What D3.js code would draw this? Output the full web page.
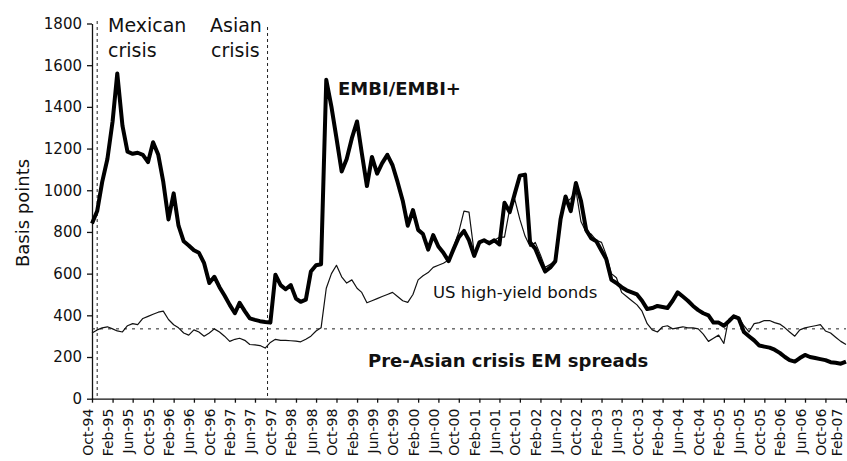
<!DOCTYPE html>
<html>
<head>
<meta charset="utf-8">
<script src="https://cdn.jsdelivr.net/npm/d3@7"></script>
<style>
  body { margin: 0; background: #fff; }
  text { font-family: "DejaVu Sans", sans-serif; fill: #111; }
</style>
</head>
<body>
<div id="chart"></div>
<script>
// monthly spreads, Oct-94 .. Feb-07 (basis points)
const embi = [
  840, 900, 1040, 1150, 1330, 1560, 1310, 1185, 1175, 1180, 1170, 1135,
  1230, 1170, 1040, 860, 985, 830, 755, 735, 712, 700, 650, 555,
  585, 535, 495, 450, 410, 460, 420, 385, 378, 372, 368, 365,
  595, 545, 525, 545, 480, 465, 475, 610, 640, 645, 1530, 1400,
  1250, 1090, 1150, 1250, 1330, 1180, 1020, 1160, 1080, 1130, 1170, 1120,
  1040, 950, 830, 905, 810, 790, 715, 785, 730, 700, 660, 720,
  775, 805, 760, 685, 750, 760, 745, 760, 740, 940, 895, 985,
  1070, 1075, 750, 720, 660, 610, 630, 660, 860, 970, 900, 1035,
  950, 810, 770, 755, 710, 670, 570, 555, 535, 520, 510, 500,
  470, 430, 435, 445, 440, 435, 470, 510, 490, 470, 445, 425,
  410, 400, 365, 365, 350, 370, 395, 385, 320, 300, 280, 255,
  250, 245, 235, 220, 200, 185, 178, 195, 210, 200, 195, 190,
  185, 175, 172, 168, 178
]

const highYield = [
  315, 330, 340, 345, 335, 325, 320, 350, 360, 355, 385, 395,
  405, 415, 420, 380, 355, 340, 315, 305, 330, 320, 300, 315,
  335, 320, 300, 275, 285, 290, 280, 260, 258, 255, 243, 270,
  285, 280, 280, 278, 276, 273, 285, 300, 325, 340, 530, 600,
  640, 585, 555, 570, 530, 510, 460, 470, 480, 490, 500, 510,
  490, 470, 462, 500, 570, 590, 605, 630, 640, 650, 665, 730,
  800, 900, 895, 700, 755, 760, 755, 760, 775, 775, 910, 955,
  860, 780, 730, 750, 690, 630, 645, 660, 880, 940, 960, 1000,
  850, 800, 790, 760, 750, 690, 600, 580, 510, 490, 470, 450,
  420, 360, 330, 320, 345, 350, 335, 340, 345, 340, 340, 335,
  310, 275, 290, 305, 265, 380, 400, 390, 350, 320, 360, 365,
  375, 375, 365, 358, 340, 320, 300, 330, 340, 345, 350, 355,
  325, 315, 295, 275, 260
]

const tickLabels = [
  'Oct-94', 'Feb-95', 'Jun-95', 'Oct-95', 'Feb-96', 'Jun-96', 'Oct-96',
  'Feb-97', 'Jun-97', 'Oct-97', 'Feb-98', 'Jun-98', 'Oct-98', 'Feb-99',
  'Jun-99', 'Oct-99', 'Feb-00', 'Jun-00', 'Oct-00', 'Feb-01', 'Jun-01',
  'Oct-01', 'Feb-02', 'Jun-02', 'Oct-02', 'Feb-03', 'Jun-03', 'Oct-03',
  'Feb-04', 'Jun-04', 'Oct-04', 'Feb-05', 'Jun-05', 'Oct-05', 'Feb-06',
  'Jun-06', 'Oct-06', 'Feb-07'
]

const yTicks = [0, 200, 400, 600, 800, 1000, 1200, 1400, 1600, 1800]

const preAsianLevel = 335
const crisisDates = ['1994-11-01', '1997-08-15']

window.onload = function() {

  const width = 847
  const height = 461

  const parseTick = d3.timeParse('%b-%y')
  const parseDay = d3.timeParse('%Y-%m-%d')

  const months = d3.timeMonth.range(new Date(1994, 9, 1), new Date(2007, 1, 2))
  const tickDates = tickLabels.map(parseTick)

  const x = d3.scaleTime()
    .domain([months[0], months[months.length - 1]])
    .range([92, 846])

  const y = d3.scaleLinear()
    .domain([0, 1800])
    .range([398.7, 23.5])

  const svg = d3.select('#chart')
    .append('svg')
      .attr('width', width)
      .attr('height', height)

  svg.append('rect')
    .attr('width', width)
    .attr('height', height)
    .attr('fill', '#fff')

  // y axis
  const yAxis = svg.append('g')
    .attr('transform', 'translate(' + x.range()[0] + ',0)')
    .call(d3.axisLeft(y)
      .tickValues(yTicks)
      .tickFormat(d3.format('d'))
      .tickSize(5)
      .tickSizeOuter(0)
      .tickPadding(5))
  yAxis.selectAll('text')
    .style('font-size', '15px')
    .style('font-family', '"DejaVu Sans", sans-serif')
  yAxis.selectAll('path, line').attr('stroke', '#111').attr('stroke-width', 1.3)

  // x axis
  const xAxis = svg.append('g')
    .attr('transform', 'translate(0,' + y(0) + ')')
    .call(d3.axisBottom(x)
      .tickValues(tickDates)
      .tickFormat((d, i) => tickLabels[i])
      .tickSize(4)
      .tickSizeOuter(0))
  xAxis.selectAll('text')
    .attr('transform', 'rotate(-90)')
    .attr('x', -10)
    .attr('y', 0)
    // last label sits on the right edge, pull it in a little
    .attr('dy', (d, i) => i === tickLabels.length - 1 ? '-0.3em' : '0')
    .style('text-anchor', 'end')
    .style('font-size', '14px')
    .style('font-family', '"DejaVu Sans", sans-serif')
  xAxis.selectAll('path, line').attr('stroke', '#111').attr('stroke-width', 1.3)

  // crisis markers
  svg.selectAll('.crisis')
    .data(crisisDates.map(parseDay))
    .enter().append('line')
      .attr('class', 'crisis')
      .attr('x1', d => x(d))
      .attr('x2', d => x(d))
      .attr('y1', (d, i) => i === 0 ? 21 : 27)
      .attr('y2', y(0))
      .attr('stroke', '#222')
      .attr('stroke-width', 1)
      .attr('stroke-dasharray', '3,3')

  // pre-Asian crisis reference level
  svg.append('line')
    .attr('x1', x.range()[0])
    .attr('x2', x.range()[1])
    .attr('y1', y(preAsianLevel))
    .attr('y2', y(preAsianLevel))
    .attr('stroke', '#222')
    .attr('stroke-width', 1)
    .attr('stroke-dasharray', '3,5')

  const line = d3.line()
    .x((d, i) => x(months[i]))
    .y(d => y(d))

  svg.append('path')
    .datum(highYield)
    .attr('fill', 'none')
    .attr('stroke', '#111')
    .attr('stroke-width', 1.2)
    .attr('stroke-linejoin', 'round')
    .attr('d', line)

  svg.append('path')
    .datum(embi)
    .attr('fill', 'none')
    .attr('stroke', '#000')
    .attr('stroke-width', 4)
    .attr('stroke-linejoin', 'round')
    .attr('d', line)

  // annotations
  const note = (txt, tx, ty, size, weight) =>
    svg.append('text')
      .attr('x', tx)
      .attr('y', ty)
      .style('font-size', size + 'px')
      .style('font-weight', weight || 'normal')
      .text(txt)

  note('Mexican', 108, 32, 19)
  note('crisis', 108, 57, 19)
  note('Asian', 210, 32, 19)
  note('crisis', 211, 57, 19)
  note('EMBI/EMBI+', 338, 95, 18, 'bold')
  note('US high-yield bonds', 433, 298, 16.5)
  note('Pre-Asian crisis EM spreads', 368, 367, 18, 'bold')

  svg.append('text')
    .attr('transform', 'translate(29,213) rotate(-90)')
    .style('text-anchor', 'middle')
    .style('font-size', '18px')
    .text('Basis points')
}
</script>
</body>
</html>
